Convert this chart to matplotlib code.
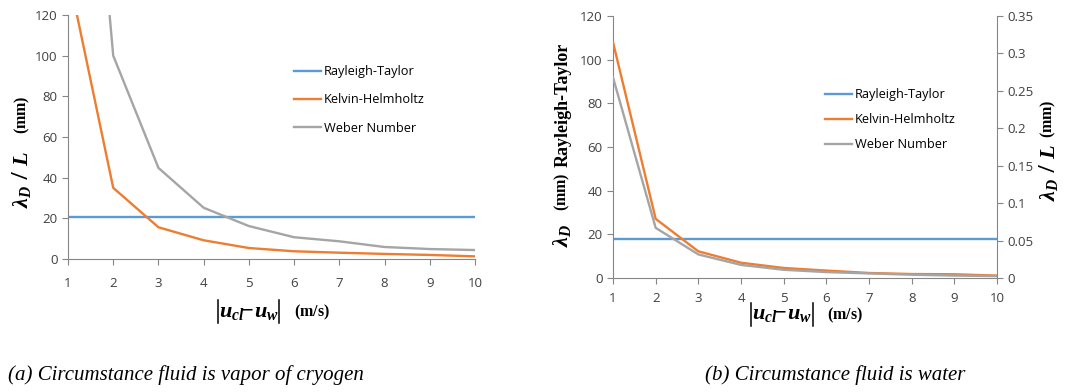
import matplotlib
matplotlib.use('Agg')
import matplotlib.pyplot as plt
from matplotlib.lines import Line2D

# --- data ---
speed = [1, 2, 3, 4, 5, 6, 7, 8, 9, 10]

# (a) vapor of cryogen
rt_a = [20.5] * 10
kh_a = [141, 35, 15.6, 9.2, 5.4, 3.8, 3.1, 2.5, 2.0, 1.3]
we_a = [350, 100, 44.8, 25.2, 16.2, 10.7, 8.7, 5.9, 4.9, 4.4]

# (b) water: RT on left axis, KH / Weber on right axis
rt_b = [17.8] * 10
kh_b = [0.315, 0.079, 0.0356, 0.0204, 0.0134, 0.0099, 0.0067, 0.0053, 0.0050, 0.0032]
we_b = [0.268, 0.067, 0.0315, 0.0175, 0.0110, 0.0079, 0.0061, 0.0044, 0.0032, 0.0026]

names = ['Rayleigh-Taylor', 'Kelvin-Helmholtz', 'Weber Number']
colors = ['#5B9BD5', '#ED7D31', '#A5A5A5']

plt.rcParams['font.family'] = 'Open Sans'
plt.rcParams['mathtext.fontset'] = 'custom'
plt.rcParams['mathtext.it'] = 'Liberation Serif:italic:bold'
plt.rcParams['mathtext.rm'] = 'Liberation Serif:bold'
plt.rcParams['mathtext.bf'] = 'Liberation Serif:bold'

W, H = 1075, 392
fig = plt.figure(figsize=(W / 100, H / 100), dpi=100)

def px(x, y):
    return x / W, 1 - y / H

def style(ax, sides, xpad):
    for s in ['top', 'right', 'left', 'bottom']:
        ax.spines[s].set_visible(s in sides)
        ax.spines[s].set_color('#868686')
    ax.tick_params(colors='#868686', labelcolor='#404040', labelsize=9.5,
                   length=4, direction='out')
    ax.tick_params(axis='x', pad=xpad)

def bar(x, y0, y1):
    fig.add_artist(Line2D([x / W, x / W], [1 - y0 / H, 1 - y1 / H], color='black', lw=1.1))

def xlabel(xl, xr, xm, y):
    # |u_cl - u_w|  (m/s)
    bar(xl, y - 12, y + 11)
    bar(xr, y - 12, y + 11)
    fig.text(*px((xl + xr) / 2, y - 1), r'$u_{cl}\!\!-\!u_w$', ha='center', va='center', fontsize=16)
    fig.text(*px(xm, y), r'$\mathrm{(m/s)}$', ha='left', va='center', fontsize=11.5)

# ---------- (a) ----------
ax1 = fig.add_axes([68 / W, 1 - 259 / H, (475 - 68) / W, (259 - 15) / H])
for ys, c, n in zip([rt_a, kh_a, we_a], colors, names):
    ax1.plot(speed, ys, color=c, lw=1.7, label=n)
ax1.set_xlim(1, 10)
ax1.set_ylim(0, 120)
ax1.set_xticks(speed)
ax1.set_yticks(range(0, 121, 20))
style(ax1, ['left', 'bottom'], 9)
ax1.legend(loc='upper left', bbox_to_anchor=((289 - 68) / 407, 1 - (60 - 15) / 244),
           frameon=False, fontsize=9.2, handlelength=2.1, handletextpad=0.25,
           labelspacing=1.2, borderaxespad=0)

fig.text(*px(22, 208), r'$\lambda_D$ / $L$', rotation=90, ha='center', va='bottom', fontsize=16)
fig.text(*px(22, 134), r'$\mathrm{(mm)}$', rotation=90, ha='center', va='bottom', fontsize=11.5)
xlabel(218, 279, 294, 312)

# ---------- (b) ----------
ax2 = fig.add_axes([613 / W, 1 - 278 / H, (997 - 613) / W, (278 - 16) / H])
ax3 = ax2.twinx()
l1, = ax2.plot(speed, rt_b, color=colors[0], lw=1.7, label=names[0])
l2, = ax3.plot(speed, kh_b, color=colors[1], lw=1.7, label=names[1])
l3, = ax3.plot(speed, we_b, color=colors[2], lw=1.7, label=names[2])
ax2.set_xlim(1, 10)
ax2.set_ylim(0, 120)
ax3.set_ylim(0, 0.35)
ax2.set_xticks(speed)
ax2.set_yticks(range(0, 121, 20))
ax3.set_yticks([0, 0.05, 0.1, 0.15, 0.2, 0.25, 0.3, 0.35])
ax3.set_yticklabels(['0', '0.05', '0.1', '0.15', '0.2', '0.25', '0.3', '0.35'])
style(ax2, ['left', 'bottom'], 6)
style(ax3, ['right'], 6)
ax3.legend([l1, l2, l3], names, loc='upper left',
           bbox_to_anchor=((820 - 613) / 384, 1 - (83 - 16) / 262),
           frameon=False, fontsize=9.2, handlelength=2.1, handletextpad=0.25,
           labelspacing=0.95, borderaxespad=0)

fig.text(*px(562, 247), r'$\lambda_D$', rotation=90, ha='center', va='bottom', fontsize=16)
fig.text(*px(562, 211), r'$\mathrm{(mm)}$', rotation=90, ha='center', va='bottom', fontsize=11.5)
fig.text(*px(563, 167), 'Rayleigh-Taylor', rotation=90, ha='center', va='bottom',
         fontsize=13, family='Liberation Serif', weight='bold')
fig.text(*px(1048, 201), r'$\lambda_D$ / $L$', rotation=90, ha='center', va='bottom', fontsize=16)
fig.text(*px(1048, 138), r'$\mathrm{(mm)}$', rotation=90, ha='center', va='bottom', fontsize=11.5)
xlabel(751, 813, 827, 315)

# ---------- captions ----------
fig.text(*px(186, 375), '(a) Circumstance fluid is vapor of cryogen', ha='center', va='center',
         fontsize=15, family='Liberation Serif', style='italic')
fig.text(*px(835, 375), '(b) Circumstance fluid is water', ha='center', va='center',
         fontsize=15, family='Liberation Serif', style='italic')

fig.savefig('out.png', dpi=100)
